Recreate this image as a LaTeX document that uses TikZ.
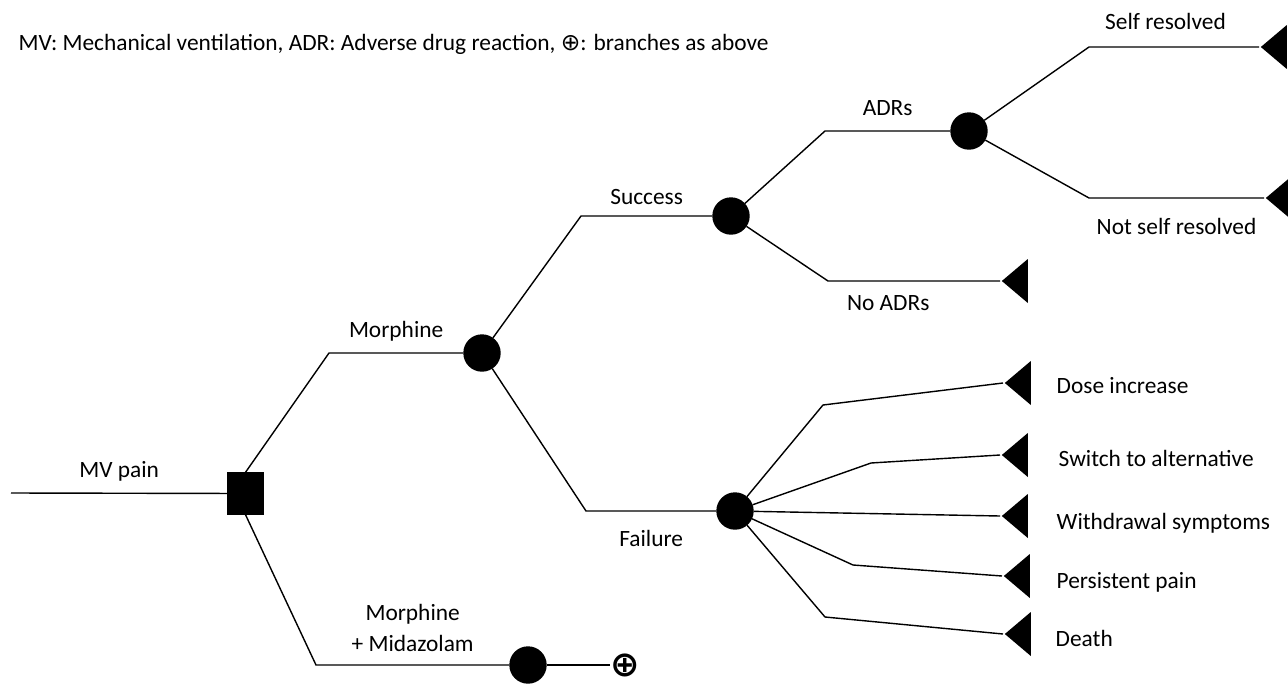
\documentclass[tikz,border=0pt]{standalone}
\usepackage{fontspec}
\setmainfont{Carlito}
\newfontfamily\symfont{DejaVu Sans}
\usetikzlibrary{shapes.geometric}

\begin{document}
\begin{tikzpicture}
	[x=0.02cm, y=-0.02cm, line width=0.8pt, font=\fontsize{13.3}{16}\selectfont,
	 decision/.style = {draw, fill, rectangle, minimum width=0.7cm, minimum height=0.82cm, inner sep=0},
	 chance/.style = {draw, fill, circle, minimum size=0.72cm, inner sep=0},
	 terminal/.style = {fill, isosceles triangle, isosceles triangle stretches, shape border rotate=180,
	                    minimum width=0.88cm, minimum height=0.52cm, inner sep=0, anchor=apex},
	 outcome/.style = {anchor=west, inner sep=0}]
	\useasboundingbox (0,0) rectangle (1288,683);
	\node[outcome] (key) at (18,44) {MV: Mechanical ventilation, ADR: Adverse drug reaction, {\symfont ⊕}: branches as above};
	% decision and chance nodes
	\coordinate (root) at (11,493);
	\node[decision] (pain) at (245.5,493.5) {};
	\node[chance] (morph) at (482,353) {};
	\node[chance] (midaz) at (528,665) {};
	\node[inner sep=0, font=\fontsize{20}{20}\selectfont\symfont\bfseries] (asabove) at (625,665) {⊕};
	\node[chance] (success) at (731,216) {};
	\node[chance] (failure) at (735,511) {};
	\node[chance] (adr) at (969,131) {};
	% elbows
	\coordinate (em) at (329,353);
	\coordinate (emm) at (316,665);
	\coordinate (es) at (581,216);
	\coordinate (ef) at (586,511);
	\coordinate (ea) at (825,131);
	\coordinate (ena) at (828,281);
	\coordinate (esr) at (1089,47);
	\coordinate (ensr) at (1089,198);
	\coordinate (edose) at (823,405);
	\coordinate (eswitch) at (871,463);
	\coordinate (epers) at (853,565);
	\coordinate (edeath) at (825,617);
	% terminal nodes
	\node[terminal] (noadr) at (1000,281) {};
	\node[terminal] (selfres) at (1259,47) {};
	\node[terminal] (notself) at (1264,198) {};
	\node[terminal] (dose) at (1003,383) {};
	\node[terminal] (switch) at (1000,455) {};
	\node[terminal] (withdraw) at (1000,516) {};
	\node[terminal] (persist) at (1002,576) {};
	\node[terminal] (death) at (1003,634) {};
	% branches
	\draw (root) -- node[above=3pt] {MV pain} (pain);
	\draw (pain.north) -- (em) -- node[above=3pt] {Morphine} (morph);
	\draw (pain.south) -- (emm) -- node[above=4pt, align=center, font=\fontsize{13.3}{17.5}\selectfont] {Morphine\\+ Midazolam} (midaz);
	\draw (midaz) -- (asabove);
	\draw (morph) -- (es) -- node[above=3pt] {Success} (success);
	\draw (morph) -- (ef) -- node[below=7pt] {Failure} (failure);
	\draw (success) -- (ea) -- node[above=5pt] {ADRs} (adr);
	\draw (success) -- (ena) -- node[below=4.5pt, pos=0.35] {No ADRs} (noadr.apex);
	\draw (adr) -- (esr) -- node[above=6pt, pos=0.45] {Self resolved} (selfres.apex);
	\draw (adr) -- (ensr) -- node[below=8pt] {Not self resolved} (notself.apex);
	\draw (failure) -- (edose) -- (dose.apex);
	\draw (failure) -- (eswitch) -- (switch.apex);
	\draw (failure) -- (withdraw.apex);
	\draw (failure) -- (epers) -- (persist.apex);
	\draw (failure) -- (edeath) -- (death.apex);
	% outcome labels
	\node[outcome] (ldose) at (1056,386) {Dose increase};
	\node[outcome] (lswitch) at (1058,458) {Switch to alternative};
	\node[outcome] (lwithdraw) at (1056,523) {Withdrawal symptoms};
	\node[outcome] (lpersist) at (1056,582) {Persistent pain};
	\node[outcome] (ldeath) at (1055,638) {Death};
\end{tikzpicture}
\end{document}
